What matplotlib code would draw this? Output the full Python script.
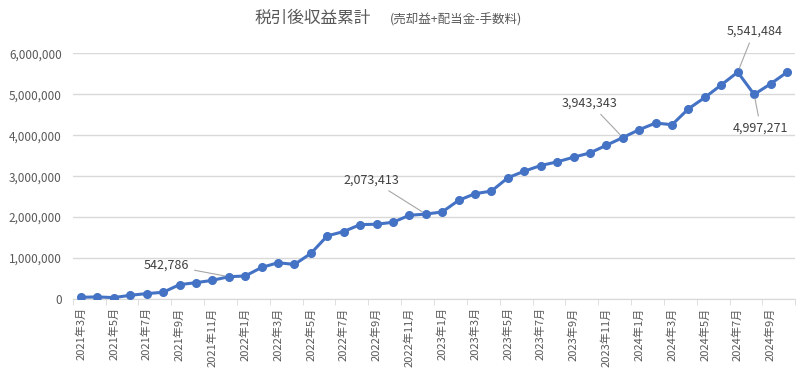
import matplotlib
matplotlib.use("Agg")
import matplotlib.pyplot as plt

plt.rcParams['font.family'] = ['Noto Sans CJK JP', 'DejaVu Sans']

# monthly cumulative after-tax profit, 2021-03 .. 2024-10
months = [f"{y}年{m}月" for y in range(2021, 2025) for m in range(1, 13)]
months = months[2:46]
values = [
    40000, 49000, 32000, 89000, 130000, 162000, 349000, 397000, 454000, 542786,
    560000, 770000, 884000, 843000, 1111000, 1541000, 1646000, 1816000, 1825000, 1873000,
    2044000, 2073413, 2125000, 2409000, 2571000, 2636000, 2960000, 3122000, 3260000, 3349000,
    3463000, 3568000, 3755000, 3943343, 4136000, 4298000, 4257000, 4647000, 4923000, 5231000,
    5541484, 4997271, 5255000, 5539000,
]
# (index of labelled point, text x, text y)
labels = [(9, 5.2, 830000), (21, 17.7, 2906000), (33, 31.0, 4786000),
          (40, 41.0, 6545000), (41, 41.4, 4176000)]

grey = "#595959"
fig = plt.figure(figsize=(8, 3.76), dpi=100)
ax = fig.add_axes([0.091, 0.205, 0.903, 0.653])

x = list(range(len(values)))
ax.plot(x, values, color="#4472C4", lw=2.2, marker="o", ms=5.5, zorder=3)

ax.set_ylim(0, 6000000)
ax.set_xlim(-0.5, len(values) - 0.5)
ax.set_yticks(range(0, 6000001, 1000000))
ax.set_yticklabels([f"{v:,}" for v in range(0, 6000001, 1000000)], fontsize=8.5, color=grey)
ax.grid(axis="y", color="#d9d9d9", lw=1)
ax.set_axisbelow(True)
ax.tick_params(axis="y", length=0, pad=8)

ax.set_xticks(x[::2])
ax.set_xticklabels(months[::2], rotation=90, fontsize=8, color=grey)
ax.set_xticks([i - 0.5 for i in range(0, len(values) + 1, 2)], minor=True)
ax.tick_params(axis="x", which="major", length=0, pad=6)
ax.tick_params(axis="x", which="minor", length=4, color="#d9d9d9")

for s in ["top", "right", "left"]:
    ax.spines[s].set_visible(False)
ax.spines["bottom"].set_color("#d9d9d9")

for i, tx, ty in labels:
    ax.annotate(f"{values[i]:,}", xy=(i, values[i]), xytext=(tx, ty),
                ha="center", va="center", fontsize=9, color="#404040",
                annotation_clip=False,
                arrowprops=dict(arrowstyle="-", color="#a6a6a6", lw=0.8,
                                shrinkA=2, shrinkB=3))

fig.text(0.391, 0.952, "税引後収益累計", ha="center", va="center", fontsize=12, color=grey)
fig.text(0.570, 0.948, "(売却益+配当金-手数料)", ha="center", va="center", fontsize=9, color=grey)

fig.savefig("out.png", dpi=100)
